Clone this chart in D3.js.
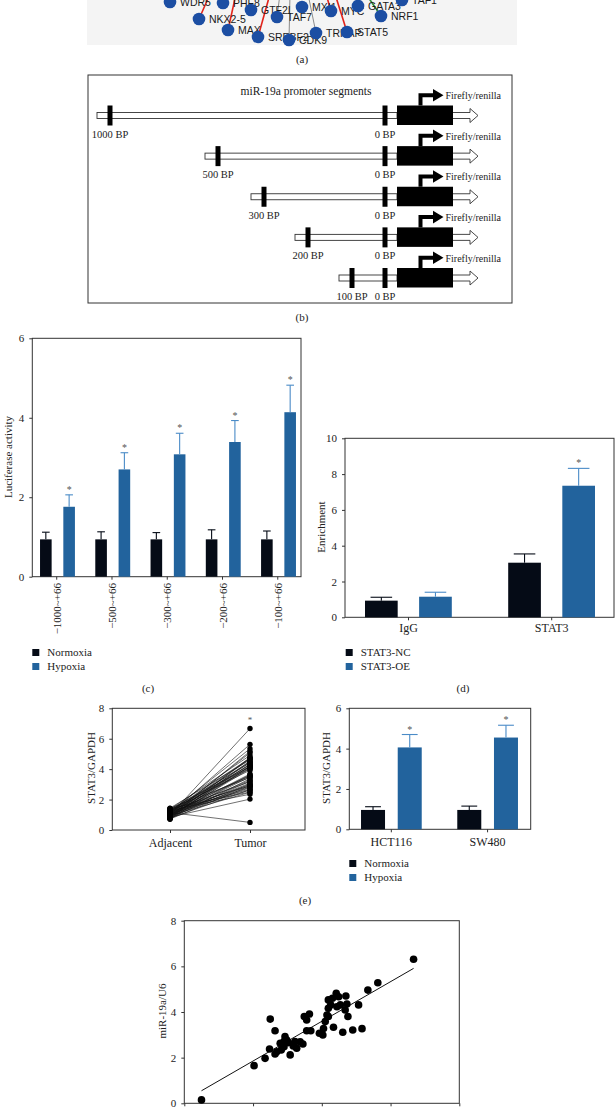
<!DOCTYPE html>
<html><head><meta charset="utf-8">
<script src="https://cdn.jsdelivr.net/npm/d3@7"></script>
<style>
body{margin:0;background:#fff;}
svg{display:block;}
</style></head><body>
<svg id="fig" width="616" height="1108"></svg>
<script>
// ---------------- DATA ----------------
// (a) cropped regulatory network
const netNodes = ["WDR5","PHF8","NKX2-5","GTF2I","TAF7","MXI1","MYC","GATA3","TAF1","NRF1","MAX","SREBF2","CDK9","TRRAP","STAT5"];
const netLayout = [[170,2],[223,3],[199,19],[251,10],[277,17],[302,7],[331,11],[358,6],[402,0],[381,16],[228,30],[258,37],[289,40],[316,33],[347,32]];
const netEdges = [["NKX2-5",210,-6,"red"],["MAX",236,-6,"red"],["SREBF2",270,-6,"red"],["TAF7",280,-6,"gray"],
                  ["CDK9",290,-6,"gray"],["TRRAP",308,-6,"gray"],["MYC",326,-6,"red"],["STAT5",335,-6,"red"],["NRF1",366,-6,"green"]];
// (b) promoter segments
const promoterStarts = [1000, 500, 300, 200, 100];
const promoterLabels = ["1000 BP","500 BP","300 BP","200 BP","100 BP"];
// (c) luciferase activity
const segCats = ["\u22121000~+66","\u2212500~+66","\u2212300~+66","\u2212200~+66","\u2212100~+66"];
const lucNormoxia = [0.94, 0.94, 0.94, 0.94, 0.94];
const lucNormoxiaErr = [0.18, 0.19, 0.17, 0.24, 0.21];
const lucHypoxia = [1.76, 2.70, 3.08, 3.39, 4.14];
const lucHypoxiaErr = [0.30, 0.42, 0.53, 0.54, 0.68];
// (d) ChIP enrichment
const chipCats = ["IgG","STAT3"];
const chipNC = [0.93, 3.05];
const chipNCErr = [0.19, 0.49];
const chipOE = [1.15, 7.35];
const chipOEErr = [0.25, 0.97];
const chipStars = [false, true];
// (e) STAT3/GAPDH
const pairCats = ["Adjacent","Tumor"];
const stat3Adjacent = [1.15,0.85,1.30,0.95,1.40,0.78,1.05,1.22,0.90,1.10,0.72,1.35,0.98,1.18,0.82,1.02,1.28,0.88,1.12,0.75,
  1.42,0.93,1.08,1.25,0.80,1.00,1.33,0.86,1.20,0.96,1.38,0.70,1.14,0.91,1.26,1.04,0.84,1.30,0.99,1.17,
  0.76,1.44,0.94,1.09,1.23,0.81,1.36,1.01,0.89,1.19,1.06,0.97];
const stat3Tumor = [0.50,2.03,2.35,2.48,2.50,2.64,2.64,2.69,2.79,2.82,2.90,2.90,2.93,2.98,3.03,3.08,3.17,3.22,3.27,3.37,
  3.45,3.49,3.56,3.56,3.64,3.68,3.93,4.03,4.05,4.10,4.15,4.19,4.19,4.19,4.26,4.31,4.34,4.42,4.44,4.49,
  4.54,4.61,4.68,4.70,4.73,4.76,4.90,5.07,5.17,5.34,5.63,6.67];
const cellCats = ["HCT116","SW480"];
const cellNormoxia = [0.96, 0.96];
const cellNormoxiaErr = [0.16, 0.19];
const cellHypoxia = [4.06, 4.55];
const cellHypoxiaErr = [0.64, 0.61];
// (f) correlation miR-19a vs STAT3 (x = stat3Tumor)
const mir19a = [0.15,1.65,1.97,2.38,3.69,3.18,2.16,2.26,2.63,2.34,2.48,2.70,2.92,2.77,2.66,2.12,2.51,2.70,2.41,2.69,
  2.60,3.80,3.65,3.18,3.91,3.18,3.07,2.99,3.28,3.58,3.87,4.16,4.53,3.80,4.31,4.60,3.33,4.82,4.23,4.67,
  4.31,3.11,4.09,4.70,4.35,3.80,3.21,4.31,3.27,4.96,5.28,6.31];
const fitCoef = [0.869, 0.115];   // slope, intercept
const fitRange = [0.5, 6.67];
const ticks6 = [0,2,4,6], ticks8 = [0,2,4,6,8], ticks10 = [0,2,4,6,8,10];

// ---------------- STYLE ----------------
const SERIF = '"Liberation Serif","Times New Roman",serif';
const SANS = '"Liberation Sans",Arial,sans-serif';
const INK = "#222", FRAME = "#333";
const DARK = "#050b16", BLUE = "#22639d", BLUE_ERR = "#4a8bc7";
const edgeColor = {red:"#e2231a", gray:"#8a8a8a", green:"#2b8a3a"};

const svg = d3.select("#fig");
svg.append("rect").attr("width",616).attr("height",1108).attr("fill","#fff");

function txt(g, t, x, y, size, anchor, font){
  return g.append("text").attr("x",x).attr("y",y).attr("font-size",size)
    .attr("text-anchor",anchor||"start").attr("font-family",font||SERIF).attr("fill",INK).text(t);
}
function vlabel(t, x, y){
  svg.append("text").attr("transform",`translate(${x},${y}) rotate(-90)`).attr("text-anchor","middle")
    .attr("font-size",11).attr("font-family",SERIF).attr("fill",INK).text(t);
}
function frame(x0,x1,y0,y1){
  svg.append("rect").attr("x",x0).attr("y",y0).attr("width",x1-x0).attr("height",y1-y0)
    .attr("fill","none").attr("stroke",FRAME).attr("stroke-width",1);
}
function yAxis(y, x, ticks){
  const g = svg.append("g").attr("transform",`translate(${x},0)`)
    .call(d3.axisLeft(y).tickValues(ticks).tickFormat(d3.format("d")).tickSize(3).tickPadding(5));
  g.select(".domain").remove();
  g.selectAll("line").attr("stroke",FRAME);
  g.selectAll("text").attr("font-size",11).attr("font-family",SERIF).attr("fill",INK);
  return g;
}
function xAxis(scale, yPos, showText, pad){
  const g = svg.append("g").attr("transform",`translate(0,${yPos})`)
    .call(d3.axisBottom(scale).tickSize(3).tickPadding(pad||4));
  g.select(".domain").remove();
  g.selectAll("line").attr("stroke",FRAME);
  if(!showText) g.selectAll("text").remove();
  else g.selectAll("text").attr("font-size",12).attr("font-family",SERIF).attr("fill",INK);
  return g;
}
function legend(x, y, items){
  items.forEach((it,i)=>{
    svg.append("rect").attr("x",x).attr("y",y+i*14).attr("width",7).attr("height",7).attr("fill",it[1]);
    txt(svg, it[0], x+15, y+i*14+7, 11, "start");
  });
}
function groupedBars(o){
  const x0 = d3.scaleBand().domain(o.cats).range(o.range);
  const x1 = d3.scaleBand().domain(o.series.map(s=>s.name)).range(o.sub).paddingInner(o.subPad);
  const bw = x1.bandwidth();
  const c = d => x0(d) + x0.bandwidth()/2;
  o.series.forEach(s=>{
    const g = svg.append("g");
    o.cats.forEach((cat,i)=>{
      const bx = c(cat) + x1(s.name);
      g.append("rect").attr("x",bx).attr("y",o.y(s.vals[i])).attr("width",bw)
        .attr("height",o.y(0)-o.y(s.vals[i])).attr("fill",s.color);
      const top = o.y(s.vals[i]+s.errs[i]);
      const mx = bx + bw/2, cw = bw*0.66;
      g.append("line").attr("x1",mx).attr("x2",mx).attr("y1",o.y(s.vals[i])).attr("y2",top)
        .attr("stroke",s.errColor).attr("stroke-width",1.1);
      g.append("line").attr("x1",mx-cw/2).attr("x2",mx+cw/2).attr("y1",top).attr("y2",top)
        .attr("stroke",s.errColor).attr("stroke-width",1.1);
      const star = Array.isArray(s.star) ? s.star[i] : s.star;
      if(star) txt(g,"*",mx,top-2,10,"middle").attr("fill","#555");
    });
  });
  return {x0, c};
}

// ---------------- (a) ----------------
const gA = svg.append("g");
gA.append("rect").attr("x",87).attr("y",-2).attr("width",430).attr("height",47).attr("fill","#f4f4f4");
const pos = new Map(netNodes.map((n,i)=>[n, netLayout[i]]));
gA.selectAll("line.edge").data(netEdges).join("line")
  .attr("x1",d=>pos.get(d[0])[0]).attr("y1",d=>pos.get(d[0])[1])
  .attr("x2",d=>d[1]).attr("y2",d=>d[2])
  .attr("stroke",d=>edgeColor[d[3]]).attr("stroke-width",d=>d[3]==="gray"?1:1.6);
const nodeG = gA.selectAll("g.node").data(netNodes).join("g")
  .attr("transform",d=>`translate(${pos.get(d)[0]},${pos.get(d)[1]})`);
nodeG.each(function(d){
  const g = d3.select(this);
  g.append("circle").attr("r",6.3).attr("fill","#1c4ea3");
  g.append("text").attr("x",10).attr("y",3.6).attr("font-size",10.5).attr("font-family",SANS)
    .attr("fill","#1a1a1a").text(d);
});
txt(svg,"(a)",302,63,11,"middle");

// ---------------- (b) ----------------
frame(88,512,75,303);
txt(svg,"miR-19a promoter segments",306,95,11.5,"middle");
const bpX = d3.scaleLinear().domain([1000,500,300,200,100,0]).range([110,218,264,308,352,385]);
const rowY = d3.scalePoint().domain(promoterStarts).range([115.5,278]);
const boxX0 = 397, boxX1 = 453;
promoterStarts.forEach((s,i)=>{
  const y = rowY(s), xs = bpX(s), x0 = bpX(0);
  svg.append("rect").attr("x",xs-13).attr("y",y-3).attr("width",boxX0-(xs-13)).attr("height",6)
    .attr("fill","#fff").attr("stroke","#333").attr("stroke-width",0.9);
  svg.append("path").attr("d",`M${boxX1},${y-3}H470V${y-7}L478,${y}L470,${y+7}V${y+3}H${boxX1}`)
    .attr("fill","#fff").attr("stroke","#333").attr("stroke-width",0.9);
  svg.append("rect").attr("x",xs-2.5).attr("y",y-10).attr("width",5).attr("height",20).attr("fill","#000");
  svg.append("rect").attr("x",x0-2.5).attr("y",y-10).attr("width",5).attr("height",20).attr("fill","#000");
  svg.append("rect").attr("x",boxX0).attr("y",y-10).attr("width",boxX1-boxX0).attr("height",19.5).attr("fill","#000");
  svg.append("path").attr("d",`M420.5,${y-10}V${y-20.3}H434`).attr("fill","none").attr("stroke","#000").attr("stroke-width",4);
  svg.append("path").attr("d",`M433,${y-26.6}L443.5,${y-20.3}L433,${y-14}Z`).attr("fill","#000");
  txt(svg,"Firefly/renilla",445.5,y-16.5,10,"start");
  txt(svg,promoterLabels[i],xs,y+22,10.5,"middle");
  txt(svg,"0 BP",x0,y+22,10.5,"middle");
});
txt(svg,"(b)",302,321,11,"middle");

// ---------------- (c) ----------------
const yC = d3.scaleLinear().domain([0,6]).range([576.7,338.3]);
frame(32.3,301,338.3,576.7);
const bc = groupedBars({cats:segCats, range:[29.1,305.4], sub:[-16.7,18.2], subPad:0.502, y:yC,
  series:[{name:"Normoxia",vals:lucNormoxia,errs:lucNormoxiaErr,color:DARK,errColor:DARK},
          {name:"Hypoxia",vals:lucHypoxia,errs:lucHypoxiaErr,color:BLUE,errColor:BLUE_ERR,star:true}]});
yAxis(yC,32.3,ticks6);
xAxis(bc.x0,576.7,false);
segCats.forEach(s=>{
  svg.append("text").attr("transform",`translate(${bc.c(s)+4},583) rotate(-90)`).attr("text-anchor","end")
    .attr("font-size",11).attr("font-family",SERIF).attr("fill",INK).text(s);
});
vlabel("Luciferase activity",12,457);
legend(32.3,649,[["Normoxia",DARK],["Hypoxia",BLUE]]);
txt(svg,"(c)",148,692,11,"middle");

// ---------------- (d) ----------------
const yD = d3.scaleLinear().domain([0,10]).range([617.3,438.3]);
frame(345,614,438.3,617.3);
const bd = groupedBars({cats:chipCats, range:[336.9,623.3], sub:[-43.5,43.3], subPad:0.396, y:yD,
  series:[{name:"STAT3-NC",vals:chipNC,errs:chipNCErr,color:DARK,errColor:DARK},
          {name:"STAT3-OE",vals:chipOE,errs:chipOEErr,color:BLUE,errColor:BLUE_ERR,star:chipStars}]});
yAxis(yD,345,ticks10);
xAxis(bd.x0,617.3,true,3);
vlabel("Enrichment",325,527);
legend(345.7,649,[["STAT3-NC",DARK],["STAT3-OE",BLUE]]);
txt(svg,"(d)",463,692,11,"middle");

// ---------------- (e) left ----------------
const xE = d3.scalePoint().domain(pairCats).range([170,250]);
const yE = d3.scaleLinear().domain([0,8]).range([830,708.3]);
frame(112.3,305,708.3,830);
const pairs = stat3Adjacent.map((a,i)=>[a, stat3Tumor[i]]);
svg.append("g").selectAll("line").data(pairs).join("line")
  .attr("x1",xE("Adjacent")).attr("x2",xE("Tumor")).attr("y1",d=>yE(d[0])).attr("y2",d=>yE(d[1]))
  .attr("stroke","#111").attr("stroke-width",0.6);
svg.append("g").selectAll("circle").data(stat3Adjacent).join("circle")
  .attr("cx",xE("Adjacent")).attr("cy",d=>yE(d)).attr("r",2.6).attr("fill","#000");
svg.append("g").selectAll("circle").data(stat3Tumor).join("circle")
  .attr("cx",xE("Tumor")).attr("cy",d=>yE(d)).attr("r",2.7).attr("fill","#000");
txt(svg,"*",xE("Tumor"),723,9,"middle").attr("fill","#555");
yAxis(yE,112.3,ticks8);
xAxis(xE,830,true,5);
vlabel("STAT3/GAPDH",95,768);

// ---------------- (e) right ----------------
const yE2 = d3.scaleLinear().domain([0,6]).range([829.3,708.3]);
frame(349.3,530.7,708.3,829.3);
const be = groupedBars({cats:cellCats, range:[343.2,535.7], sub:[-30.3,30.4], subPad:0.346, y:yE2,
  series:[{name:"Normoxia",vals:cellNormoxia,errs:cellNormoxiaErr,color:DARK,errColor:DARK},
          {name:"Hypoxia",vals:cellHypoxia,errs:cellHypoxiaErr,color:BLUE,errColor:BLUE_ERR,star:true}]});
yAxis(yE2,349.3,ticks6);
xAxis(be.x0,829.3,true,5);
vlabel("STAT3/GAPDH",330,768);
legend(349.3,860,[["Normoxia",DARK],["Hypoxia",BLUE]]);
txt(svg,"(e)",305,904,11,"middle");

// ---------------- (f) ----------------
const xF = d3.scaleLinear().domain([0,8]).range([184.3,459.3]);
const yF = d3.scaleLinear().domain([0,8]).range([1103.3,920.7]);
frame(184.3,459.3,920.7,1103.3);
svg.append("line").attr("x1",xF(fitRange[0])).attr("x2",xF(fitRange[1]))
  .attr("y1",yF(fitCoef[0]*fitRange[0]+fitCoef[1])).attr("y2",yF(fitCoef[0]*fitRange[1]+fitCoef[1]))
  .attr("stroke","#111").attr("stroke-width",1);
svg.append("g").selectAll("circle").data(stat3Tumor.map((x,i)=>[x,mir19a[i]])).join("circle")
  .attr("cx",d=>xF(d[0])).attr("cy",d=>yF(d[1])).attr("r",3.8).attr("fill","#000");
yAxis(yF,184.3,ticks8);
{
  const g = svg.append("g").attr("transform","translate(0,1103.3)")
    .call(d3.axisBottom(xF).tickValues(ticks8).tickSize(3).tickPadding(4));
  g.select(".domain").remove();
  g.selectAll("line").attr("stroke",FRAME);
  g.selectAll("text").attr("font-size",11).attr("font-family",SERIF).attr("fill",INK);
}
vlabel("miR-19a/U6",166,1011);
</script></body></html>
